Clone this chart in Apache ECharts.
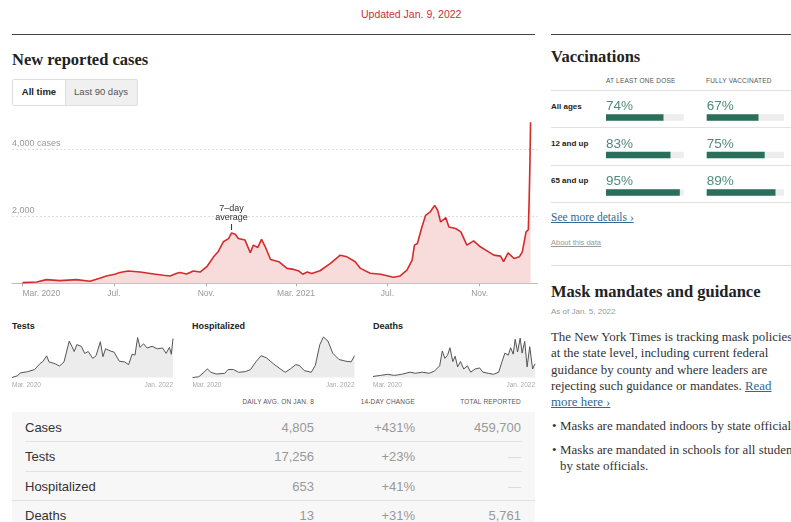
<!DOCTYPE html>
<html>
<head>
<meta charset="utf-8">
<script src="https://cdn.jsdelivr.net/npm/echarts@6/dist/echarts.min.js"></script>
<style>
  html, body { margin: 0; padding: 0; background: #fff; }
  #page { position: relative; width: 791px; height: 522px; overflow: hidden; font-family: "Liberation Sans", Arial, sans-serif; }
  #chart { position: absolute; left: 0; top: 0; width: 791px; height: 522px; z-index: 2; }
  .t { position: absolute; white-space: nowrap; z-index: 1; }
  .serif { font-family: "Liberation Serif", "DejaVu Serif", serif; }
  .title { font-size: 16.5px; font-weight: bold; color: #222; }
  .rule { position: absolute; height: 0; z-index: 1; }
  .hd { font-size: 6.5px; color: #555; text-transform: uppercase; letter-spacing: 0.2px; }
  .row-label { font-size: 13px; color: #333; }
  .num { font-size: 13px; color: #999; text-align: right; }
  .link { color: #326891; text-decoration: underline; }
  .para { font-size: 12.9px; line-height: 16.3px; color: #333; }
</style>
</head>
<body>
<div id="page">
  <div class="t" style="left:361px;top:8px;font-size:10.5px;color:#c4303b;">Updated Jan. 9, 2022</div>
  <div class="rule" style="left:12px;top:34px;width:523px;border-top:1.5px solid #444;"></div>
  <div class="rule" style="left:551px;top:34px;width:240px;border-top:1.5px solid #444;"></div>

  <!-- left column -->
  <div class="t serif title" style="left:12px;top:50px;">New reported cases</div>
  <div class="t" style="left:12px;top:79px;width:124px;height:25px;border:1px solid #ddd;border-radius:2px;background:#f0f0f0;"></div>
  <div class="t" style="left:13px;top:80px;width:52px;height:25px;background:#fff;border-right:1px solid #ddd;"></div>
  <div class="t" style="left:13px;top:86px;width:52px;text-align:center;font-size:9.5px;font-weight:bold;color:#222;">All time</div>
  <div class="t" style="left:66px;top:86px;width:70px;text-align:center;font-size:9.5px;color:#555;">Last 90 days</div>

  <div class="t" style="left:12px;top:321px;font-size:9px;font-weight:bold;color:#222;">Tests</div>
  <div class="t" style="left:192px;top:321px;font-size:9px;font-weight:bold;color:#222;">Hospitalized</div>
  <div class="t" style="left:373px;top:321px;font-size:9px;font-weight:bold;color:#222;">Deaths</div>

  <div class="t hd" style="left:214px;width:100px;text-align:right;top:398px;">Daily avg. on Jan. 8</div>
  <div class="t hd" style="left:315px;width:100px;text-align:right;top:398px;">14-day change</div>
  <div class="t hd" style="left:421px;width:100px;text-align:right;top:398px;">Total reported</div>
  <div class="t" style="left:12px;top:412px;width:523px;height:110px;background:#f7f7f7;z-index:0;"></div>
  <div class="rule" style="left:25px;top:441px;width:497px;border-top:1px solid #e2e2e2;"></div>
  <div class="rule" style="left:25px;top:471px;width:497px;border-top:1px solid #e2e2e2;"></div>
  <div class="rule" style="left:12px;top:500px;width:523px;border-top:1px solid #e2e2e2;"></div>
  <div id="rows"></div>

  <!-- right column -->
  <div class="t serif title" style="left:551px;top:47px;">Vaccinations</div>
  <div class="t hd" style="left:606px;top:77px;">At least one dose</div>
  <div class="t hd" style="left:706px;top:77px;">Fully vaccinated</div>
  <div class="rule" style="left:551px;top:90px;width:240px;border-top:1px solid #e2e2e2;"></div>
  <div class="rule" style="left:551px;top:127px;width:240px;border-top:1px solid #e2e2e2;"></div>
  <div class="rule" style="left:551px;top:165px;width:240px;border-top:1px solid #e2e2e2;"></div>
  <div class="rule" style="left:551px;top:202px;width:240px;border-top:1px solid #e2e2e2;"></div>
  <div id="vaxLabels"></div>
  <div class="t serif link" style="left:551px;top:211px;font-size:11.5px;">See more details ›</div>
  <div class="t" style="left:551px;top:238px;font-size:7.5px;color:#999;text-decoration:underline;">About this data</div>
  <div class="rule" style="left:551px;top:265px;width:240px;border-top:1px solid #ddd;"></div>

  <div class="t serif title" style="left:551px;top:282px;">Mask mandates and guidance</div>
  <div class="t" style="left:551px;top:307px;font-size:8px;color:#999;">As of Jan. 5, 2022</div>
  <div class="t serif para" style="left:551px;top:329px;">
    The New York Times is tracking mask policies<br>
    at the state level, including current federal<br>
    guidance by county and where leaders are<br>
    rejecting such guidance or mandates. <span class="link">Read</span><br>
    <span class="link">more here ›</span>
  </div>
  <div class="t serif para" style="left:552px;top:418px;">•</div>
  <div class="t serif para" style="left:560px;top:418px;">Masks are mandated indoors by state officials.</div>
  <div class="t serif para" style="left:552px;top:442px;">•</div>
  <div class="t serif para" style="left:560px;top:442px;">Masks are mandated in schools for all students<br>by state officials.</div>

  <div id="chart"></div>
</div>
<script>
// 7-day average of new cases
const caseDates = [
  '2020-03-01','2020-03-20','2020-04-02','2020-04-20','2020-05-12','2020-05-30','2020-06-12','2020-06-21',
  '2020-07-02','2020-07-09','2020-07-20','2020-08-05','2020-08-23','2020-09-05','2020-09-14','2020-09-23',
  '2020-09-27','2020-10-06','2020-10-15','2020-10-24','2020-11-02','2020-11-11','2020-11-17','2020-11-24',
  '2020-12-01','2020-12-05','2020-12-10','2020-12-14','2020-12-23','2020-12-30','2021-01-03','2021-01-09',
  '2021-01-14','2021-01-19','2021-01-26','2021-02-06','2021-02-17','2021-02-26','2021-03-05','2021-03-10',
  '2021-03-16','2021-03-22','2021-04-02','2021-04-16','2021-04-29','2021-05-08','2021-05-19','2021-05-26',
  '2021-06-08','2021-06-22','2021-07-09','2021-07-18','2021-07-27','2021-08-03','2021-08-06','2021-08-10',
  '2021-08-16','2021-08-21','2021-08-27','2021-09-02','2021-09-06','2021-09-10','2021-09-17','2021-09-21',
  '2021-09-30','2021-10-07','2021-10-15','2021-10-24','2021-11-02','2021-11-13','2021-11-20','2021-11-29',
  '2021-12-03','2021-12-09','2021-12-17','2021-12-24','2021-12-28','2022-01-02','2022-01-05','2022-01-06',
  '2022-01-07','2022-01-08'
];
const caseAvg = [
  20, 40, 110, 80, 110, 60, 150, 220,
  270, 320, 365, 335, 280, 240, 220, 300,
  320, 280, 365, 335, 495, 790, 940, 1240,
  1335, 1505, 1465, 1335, 1290, 910, 1140, 1070,
  1310, 1090, 710, 645, 445, 415, 365, 270,
  335, 290, 375, 595, 840, 790, 645, 445,
  300, 270, 180, 220, 395, 690, 1140, 1190,
  1680, 2030, 2130, 2325, 2180, 1830, 1960, 1680,
  1635, 1535, 1140, 1265, 1090, 940, 840, 810,
  645, 910, 740, 790, 940, 1535, 1600, 2400,
  3400, 4805
];
const caseTickDates = ['2020-03-01','2020-07-01','2020-11-01','2021-03-01','2021-07-01','2021-11-01'];
const caseTickLabels = ['Mar. 2020','Jul.','Nov.','Mar. 2021','Jul.','Nov.'];

// sparklines: days since Mar. 1, 2020 and values
const testDays = [0,22,36,66,95,117,131,146,156,182,200,219,241,252,262,273,292,306,321,340,354,372,383,394,413,430,452,474,491,506,518,529,539,554,569,590,612,634,649,663,671,678];
const testVals = [0,740,2020,2580,3500,6070,7180,9570,6900,6070,5060,6900,16100,13800,11500,14540,13800,10670,11500,8460,9660,15820,9200,12700,11780,11220,7180,6900,5700,10300,9940,17660,13340,14900,13060,13800,12700,13060,10670,13340,10300,17256];
const hospDays = [0,26,48,62,77,99,135,149,171,193,222,243,265,287,309,338,367,388,410,432,446,468,497,514,533,548,567,587,613,642,664,678];
const hospVals = [0,21,156,259,156,104,124,239,239,156,176,239,467,653,591,415,259,156,259,384,363,207,156,363,985,1213,1089,726,539,487,467,653];
const deathDays = [0,32,61,90,119,155,177,206,235,257,279,290,301,312,322,334,344,354,366,380,395,409,427,446,460,482,504,526,540,552,566,576,587,595,605,616,624,635,645,656,668,678];
const deathVals = [1,2,3,2,3,5,4,5,4,6,11,25,18,21,28,15,20,10,15,8,11,5,8,9,5,4,3,5,15,23,21,28,22,36,24,37,23,34,10,29,8,13];

// summary table
const rowNames = ['Cases', 'Tests', 'Hospitalized', 'Deaths'];
const dailyAvg = ['4,805', '17,256', '653', '13'];
const change14 = ['+431%', '+23%', '+41%', '+31%'];
const totalReported = ['459,700', '—', '—', '5,761'];

// vaccinations
const ageGroups = ['All ages', '12 and up', '65 and up'];
const oneDose = [74, 83, 95];
const fullyVax = [67, 75, 89];

const rowY = [420, 449, 479, 508];
document.getElementById('rows').innerHTML = rowNames.map((n, i) =>
  `<div class="t row-label" style="left:25px;top:${rowY[i]}px;">${n}</div>` +
  `<div class="t num" style="left:214px;width:100px;top:${rowY[i]}px;">${dailyAvg[i]}</div>` +
  `<div class="t num" style="left:315px;width:100px;top:${rowY[i]}px;">${change14[i]}</div>` +
  `<div class="t num" style="left:421px;width:100px;top:${rowY[i]}px;${totalReported[i] === '—' ? 'color:#ddd;' : ''}">${totalReported[i]}</div>`
).join('');
const vaxY = [102, 139, 176];
document.getElementById('vaxLabels').innerHTML = ageGroups.map((n, i) =>
  `<div class="t" style="left:551px;top:${vaxY[i]}px;font-size:8px;font-weight:bold;color:#222;">${n}</div>`
).join('');

function toTime(s) {
  const p = s.split('-');
  return new Date(+p[0], p[1] - 1, +p[2]).getTime();
}
const tickTimes = caseTickDates.map(toTime);

const chart = echarts.init(document.getElementById('chart'), null, { renderer: 'canvas' });

const sparkGrids = [
  { left: 12, top: 335, width: 161, height: 42.5 },
  { left: 192.5, top: 335, width: 162, height: 42.5 },
  { left: 373, top: 335, width: 162, height: 42.5 }
];
const sparkMax = [18800, 1272, 40];
const sparkData = [
  testDays.map((d, i) => [d, testVals[i]]),
  hospDays.map((d, i) => [d, hospVals[i]]),
  deathDays.map((d, i) => [d, deathVals[i]])
];

const grids = [{ left: 12, top: 115.8, width: 525.3, height: 167.5 }]
  .concat(sparkGrids)
  .concat([
    { left: 606, top: 98.75, width: 77.7, height: 112.5 },
    { left: 706.7, top: 98.75, width: 77.3, height: 112.5 }
  ]);

const xAxes = [{
  type: 'value', gridIndex: 0,
  min: toTime('2020-02-16'), max: toTime('2022-01-17'),
  axisLine: { lineStyle: { color: '#bbb', width: 1 } },
  axisTick: { show: true, customValues: tickTimes, length: 3, lineStyle: { color: '#aaa' } },
  axisLabel: {
    customValues: tickTimes, color: '#999', fontSize: 8.5, margin: 6,
    alignMinLabel: 'left',
    formatter: v => caseTickLabels[tickTimes.indexOf(v)] || ''
  },
  splitLine: { show: false }
}];
const yAxes = [{
  type: 'value', gridIndex: 0, min: 0, max: 5000, interval: 2000,
  axisLine: { show: false }, axisTick: { show: false },
  axisLabel: {
    inside: true, verticalAlign: 'bottom', margin: 0, padding: [0, 0, 1, 0],
    color: '#999', fontSize: 9, showMaxLabel: false, showMinLabel: false,
    formatter: v => v === 4000 ? '4,000 cases' : (v === 2000 ? '2,000' : '')
  },
  splitLine: { show: true, showMinLine: false, showMaxLine: false, lineStyle: { color: '#ddd', type: [2, 2] } }
}];
const series = [{
  type: 'line', xAxisIndex: 0, yAxisIndex: 0,
  data: caseDates.map((d, i) => [toTime(d), caseAvg[i]]),
  showSymbol: false, smooth: false,
  lineStyle: { color: '#d52b2b', width: 1.6 },
  areaStyle: { color: '#f8dcdb', opacity: 1 },
  markPoint: {
    symbol: 'rect', symbolSize: [1, 6], symbolOffset: [0, -6],
    itemStyle: { color: '#333' },
    label: { show: true, position: 'top', distance: 1.5, formatter: '7–day\naverage', color: '#333', fontSize: 9, lineHeight: 9 },
    data: [{ coord: [toTime('2020-12-05'), 1505] }]
  }
}];

sparkGrids.forEach((g, k) => {
  const gi = k + 1;
  xAxes.push({
    type: 'value', gridIndex: gi, min: 0, max: 678,
    axisLine: { show: false }, axisTick: { show: false }, splitLine: { show: false },
    axisLabel: {
      customValues: [0, 678], color: '#aaa', fontSize: 6.5, margin: 4,
      alignMinLabel: 'left', alignMaxLabel: 'right',
      formatter: v => v === 0 ? 'Mar. 2020' : 'Jan. 2022'
    }
  });
  yAxes.push({ type: 'value', gridIndex: gi, min: 0, max: sparkMax[k], show: false, splitLine: { show: false } });
  series.push({
    type: 'line', xAxisIndex: gi, yAxisIndex: gi, data: sparkData[k],
    showSymbol: false, lineStyle: { color: '#555', width: 1 },
    areaStyle: { color: '#ececec', opacity: 1 }
  });
});

[oneDose, fullyVax].forEach((vals, k) => {
  const gi = k + 4;
  xAxes.push({ type: 'value', gridIndex: gi, min: 0, max: 100, show: false, splitLine: { show: false } });
  yAxes.push({ type: 'category', gridIndex: gi, data: ageGroups, inverse: true, show: false });
  series.push({
    type: 'bar', xAxisIndex: gi, yAxisIndex: gi, data: vals, barWidth: 6.4,
    itemStyle: { color: '#2c6e5c' },
    showBackground: true, backgroundStyle: { color: '#ededed' },
    label: {
      show: true, position: [0, -15], formatter: '{c}%',
      color: '#4f8a79', fontSize: 13.5, fontFamily: 'Liberation Sans'
    }
  });
});

chart.setOption({
  animation: false,
  textStyle: { fontFamily: 'Liberation Sans, Arial, sans-serif' },
  grid: grids,
  xAxis: xAxes,
  yAxis: yAxes,
  series: series
});
</script>
</body>
</html>
